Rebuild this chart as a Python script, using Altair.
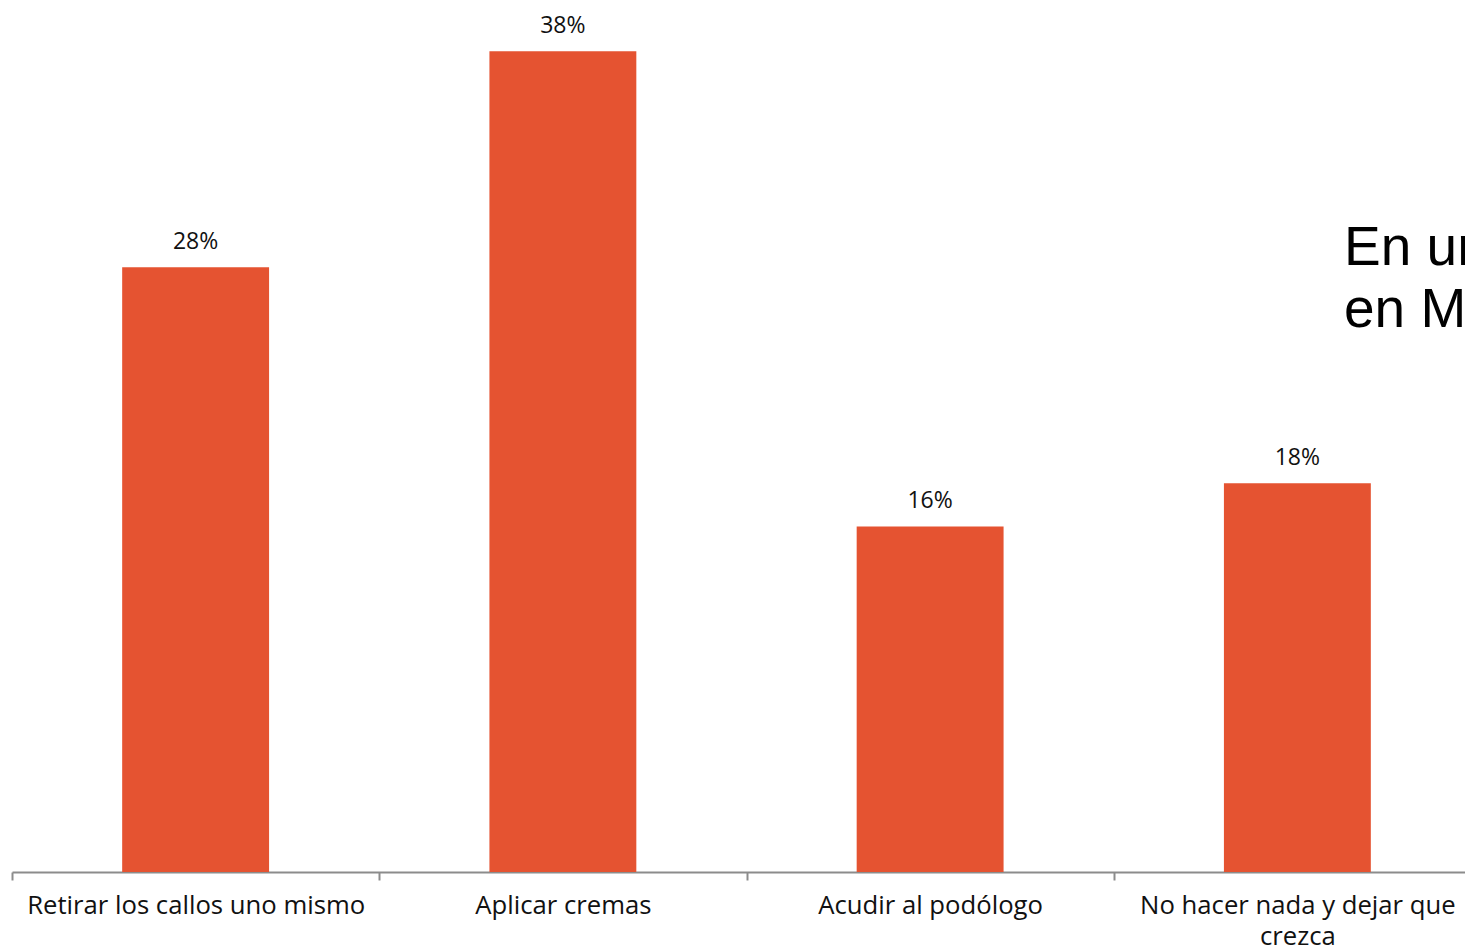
import altair as alt
import pandas as pd

categories = ["Retirar los callos uno mismo", "Aplicar cremas", "Acudir al podólogo",
              "No hacer nada y dejar que crezca"]
values = [28, 38, 16, 18]
value_labels = ["28%", "38%", "16%", "18%"]
side_text = ["En un", "en Ma"]

df = pd.DataFrame({"cat": categories, "val": values, "lab": value_labels})

FONT = "Open Sans"
BAR = "#E55331"

x = alt.X(
    "cat:N", sort=categories,
    scale=alt.Scale(paddingInner=0, paddingOuter=0, rangeMin=0, rangeMax=1469),
    axis=alt.Axis(
        title=None, labelAngle=0, tickBand="extent", ticks=True, tickSize=8,
        tickColor="#8c8c8c", tickWidth=2, domainColor="#8c8c8c", domainWidth=2,
        labelFont=FONT, labelFontSize=25.7, labelColor="#111111", labelPadding=13,
        labelLineHeight=31, labelBaseline="top", labelLimit=0,
        labelExpr="datum.label == 'No hacer nada y dejar que crezca' ? ['No hacer nada y dejar que', 'crezca'] : datum.label",
    ),
)
y = alt.Y("val:Q", scale=alt.Scale(domain=[0, 40], nice=False), axis=None)

bars = alt.Chart(df).mark_bar(color=BAR, width=alt.RelativeBandSize(0.4)).encode(x=x, y=y)
text = alt.Chart(df).mark_text(font=FONT, fontSize=23, dy=-18, baseline="alphabetic",
                               color="#111111").encode(x=x, y=y, text="lab:N")

side = alt.Chart(pd.DataFrame({"t": [side_text]})).mark_text(
    font="Liberation Sans", fontSize=55, align="left", baseline="alphabetic",
    lineHeight=62, color="#000000"
).encode(x=alt.value(1332), y=alt.value(257), text="t")

chart = alt.layer(bars, text, side).properties(
    width=1453, height=864,
    autosize=alt.AutoSizeParams(type="none"),
    padding={"left": 4, "top": 0, "right": 0, "bottom": 77},
    background="white",
).configure_view(stroke=None)

chart.save("out.html", embed_options={"renderer": "svg", "actions": False})
